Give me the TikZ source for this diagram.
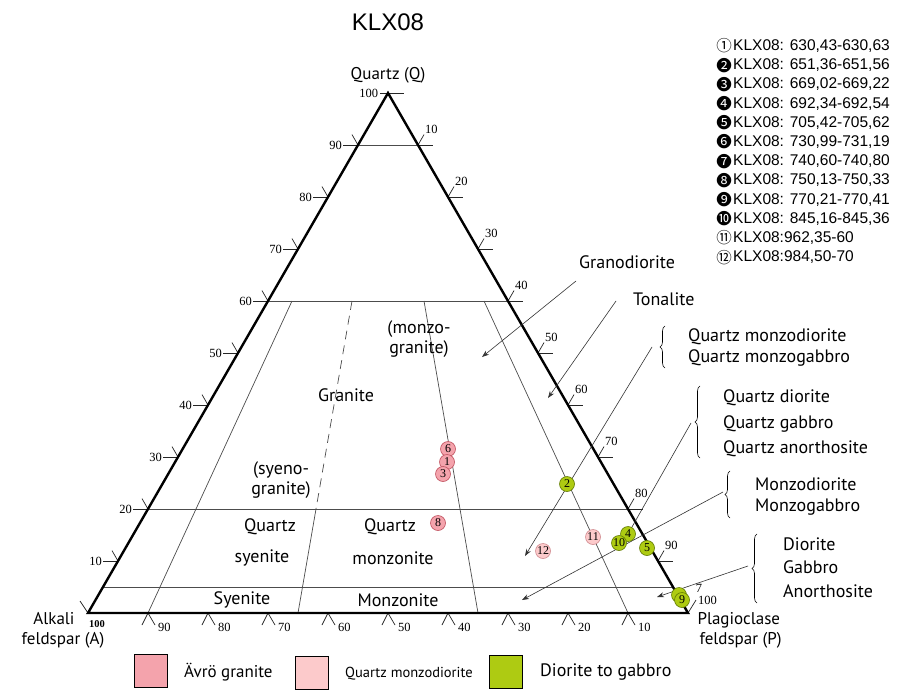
\documentclass[tikz,border=0pt]{standalone}
\usepackage{fontspec}
\setmainfont{PT Sans}
\newfontfamily\arialf{Liberation Sans}
\newfontfamily\timesf{Liberation Serif}
\newfontfamily\djv{DejaVu Sans}
\newfontfamily\cjkf{Noto Sans CJK SC}
\usetikzlibrary{arrows.meta,decorations.pathreplacing,calc}
\definecolor{avro}{HTML}{F4A3AC}
\definecolor{qmd}{HTML}{FCCACB}
\definecolor{dg}{HTML}{AECB12}
\definecolor{avroD}{HTML}{C0505E}
\definecolor{qmdD}{HTML}{D08A8E}
\definecolor{dgD}{HTML}{607A00}
\begin{document}
\begin{tikzpicture}[x=1pt,y=-1pt,
  edge/.style={line width=2.4pt, line join=miter},
  fieldline/.style={line width=0.7pt, draw=black!70},
  tickln/.style={line width=0.7pt, draw=black!85},
  ticklab/.style={font=\timesf\fontsize{12.5}{12.5}\selectfont, inner sep=0.8pt},
  lab/.style={font=\fontsize{18}{18}\selectfont, inner sep=0pt},
  ptr/.style={line width=0.6pt, draw=black!80, -{Stealth[length=7pt,width=5pt]}},
  brc/.style={decorate, decoration={brace, amplitude=5pt}, line width=0.6pt},
  sample/.style={circle, minimum size=15pt, inner sep=0pt, line width=0.6pt, font=\timesf\fontsize{12}{12}\selectfont},
  avs/.style={sample, fill=avro, draw=avroD},
  qms/.style={sample, fill=qmd, draw=qmdD},
  dgs/.style={sample, fill=dg, draw=dgD},
  legbox/.style={draw=black, line width=1.4pt, minimum width=33pt, minimum height=33pt, inner sep=0pt},
  klx/.style={font=\arialf\fontsize{15.5}{15.5}\selectfont, anchor=west, inner sep=0pt},
  mk/.style={font=\cjkf\fontsize{15.5}{15.5}\selectfont, inner sep=0pt}
]
\useasboundingbox (0,0) rectangle (904,690);
\fill[white] (0,0) rectangle (904,690);

% title
\node[font=\arialf\fontsize{24}{24}\selectfont] (title) at (388,22) {KLX08};

% vertices
\coordinate (A) at (88,613);
\coordinate (P) at (688,613);
\coordinate (Q) at (388,93);

% field lines
\draw[fieldline] (358,145) -- (418,145);
\draw[fieldline] (268,301) -- (508,301);
\draw[fieldline] (148,509) -- (628,509);
\draw[fieldline] (103,587) -- (673,587);
\draw[fieldline] (292,301) -- (148,613);
\draw[fieldline, dash pattern=on 9pt off 6pt] (352,301) -- (316,509);
\draw[fieldline] (316,509) -- (298,613);
\draw[fieldline] (424,301) -- (478,613);
\draw[fieldline] (484,301) -- (628,613);

% ticks left edge
\foreach \q in {1,...,9} {
  \pgfmathsetmacro\ex{88+30*\q}
  \pgfmathsetmacro\ey{613-52*\q}
  \pgfmathtruncatemacro\lv{10*\q}
  \draw[tickln] (\ex,\ey) -- ++(-15,0) node[ticklab, anchor=east] {\lv};
  \draw[tickln] (\ex,\ey) -- ++(-6,-10.4);
}
% ticks right edge
\foreach \q in {1,...,9} {
  \pgfmathsetmacro\ex{688-30*\q}
  \pgfmathsetmacro\ey{613-52*\q}
  \pgfmathtruncatemacro\lv{100-10*\q}
  \draw[tickln] (\ex,\ey) -- ++(15,0);
  \draw[tickln] (\ex,\ey) -- ++(6,-10.4) node[ticklab, anchor=south west] {\lv};
}
% ticks bottom edge
\foreach \k in {1,...,9} {
  \pgfmathsetmacro\bx{88+60*\k}
  \pgfmathtruncatemacro\lv{100-10*\k}
  \draw[tickln] (\bx-6,625) -- (\bx,613) -- (\bx+7,625);
  \node[ticklab, anchor=west] at (\bx+9,627) {\lv};
}
% vertex ticks
\draw[tickln] (380,93) -- (404,93);
\node[ticklab, anchor=east] (q100) at (379,93) {100};
\draw[tickln] (A) -- ++(-8,-12);
\node[ticklab, font=\timesf\bfseries\fontsize{10.5}{10.5}\selectfont] (a100) at (97,624) {100};
\draw[tickln] (P) -- ++(8,-13);
\node[ticklab, anchor=south west] (p100) at (697,606) {100};
\node[ticklab] (p7) at (699,588) {7};

% triangle
\draw[edge] (A) -- (Q) -- (P) -- cycle;

% vertex labels
\node[font=\fontsize{17}{17}\selectfont] (qlab) at (388,75) {Quartz (Q)};
\node[font=\fontsize{17}{17}\selectfont, anchor=east] (alab1) at (78,619) {Alkali};
\node[font=\fontsize{17}{17}\selectfont] (alab2) at (63,640) {feldspar (A)};
\node[font=\fontsize{17}{17}\selectfont, anchor=west] (plab1) at (694,620) {Plagioclase};
\node[font=\fontsize{17}{17}\selectfont, anchor=west] (plab2) at (696,640) {feldspar (P)};

% field labels
\node[lab, align=center] (monzo) at (419,339) {(monzo-\\[2pt]granite)};
\node[lab] (granite) at (346,395) {Granite};
\node[lab, align=center] (syeno) at (281,480) {(syeno-\\[2pt]granite)};
\node[lab] (qs1) at (270,527) {Quartz};
\node[lab] (qs2) at (262,558) {syenite};
\node[lab] (qm1) at (390,527) {Quartz};
\node[lab] (qm2) at (393,558) {monzonite};
\node[lab] (sy) at (242,600) {Syenite};
\node[lab] (mz) at (398,600) {Monzonite};

% right labels
\node[lab, anchor=west] (grd) at (579,262) {Granodiorite};
\node[lab, anchor=west] (ton) at (633,299) {Tonalite};
\node[lab, anchor=west] (qmd1) at (688,337) {Quartz monzodiorite};
\node[lab, anchor=west] (qmd2) at (688,358) {Quartz monzogabbro};
\node[lab, anchor=west] (qd1) at (723,398) {Quartz diorite};
\node[lab, anchor=west] (qd2) at (723,424) {Quartz gabbro};
\node[lab, anchor=west] (qd3) at (723,449) {Quartz anorthosite};
\node[lab, anchor=west] (md1) at (755,484) {Monzodiorite};
\node[lab, anchor=west] (md2) at (755,507) {Monzogabbro};
\node[lab, anchor=west] (di1) at (783,544) {Diorite};
\node[lab, anchor=west] (di2) at (783,567) {Gabbro};
\node[lab, anchor=west] (di3) at (783,591) {Anorthosite};

% braces
\draw[brc] (665,368) -- (665,326);
\draw[brc] (700,458) -- (700,386);
\draw[brc] (730,518) -- (730,471);
\draw[brc] (757,603) -- (757,534);

% pointer arrows
\coordinate (grdS) at (576,281);
\coordinate (grdT) at (482,357);
\coordinate (tonS) at (616,301);
\coordinate (tonT) at (548,398);
\coordinate (qmdS) at (652,347);
\coordinate (qmdT) at (525,556);
\coordinate (qdS) at (691,423);
\coordinate (qdT) at (628,534);
\coordinate (mdS) at (723,492);
\coordinate (mdT) at (522,600);
\coordinate (diS) at (748,566);
\coordinate (diT) at (657,597);
\draw[ptr] (grdS) -- (grdT);
\draw[ptr] (tonS) -- (tonT);
\draw[ptr] (qmdS) -- (qmdT);
\draw[ptr] (qdS) -- (qdT);
\draw[ptr] (mdS) -- (mdT);
\draw[ptr] (diS) -- (diT);

% samples
\node[avs] (s6) at (448,449) {6};
\node[avs] (s1) at (447,462) {1};
\node[avs] (s3) at (443,474) {3};
\node[avs] (s8) at (438,523) {8};
\node[qms] (s11) at (593,537) {11};
\node[qms] (s12) at (543,551) {12};
\node[dgs] (s2) at (567,484) {2};
\node[dgs] (s4) at (628,534) {4};
\node[dgs] (s10) at (619,543) {10};
\node[dgs] (s5) at (647,548) {5};
\node[dgs] (s9b) at (679,595) {};
\node[dgs] (s9) at (682,600) {9};

% top-right legend
\foreach \m/\t [count=\i from 0] in {
  {①}/{KLX08: 630,43-630,63},
  {❷}/{KLX08: 651,36-651,56},
  {❸}/{KLX08: 669,02-669,22},
  {❹}/{KLX08: 692,34-692,54},
  {❺}/{KLX08: 705,42-705,62},
  {❻}/{KLX08: 730,99-731,19},
  {❼}/{KLX08: 740,60-740,80},
  {❽}/{KLX08: 750,13-750,33},
  {❾}/{KLX08: 770,21-770,41},
  {❿}/{KLX08: 845,16-845,36},
  {⑪}/{KLX08:962,35-60},
  {⑫}/{KLX08:984,50-70}} {
  \node[mk] (m\i) at (724,{46+19.2*\i}) {\m};
  \node[klx] (k\i) at (733,{46+19.2*\i}) {\t};
}

% bottom legend
\node[legbox, fill=avro] (b1) at (151,671) {};
\node[lab, anchor=west, font=\fontsize{17}{17}\selectfont] (bl1) at (184,672) {Ävrö granite};
\node[legbox, fill=qmd] (b2) at (312,673) {};
\node[lab, anchor=west, font=\fontsize{14.5}{14.5}\selectfont] (bl2) at (345,674) {Quartz monzodiorite};
\node[legbox, fill=dg] (b3) at (506,672) {};
\node[lab, anchor=west] (bl3) at (540,672) {Diorite to gabbro};
\end{tikzpicture}
\end{document}
